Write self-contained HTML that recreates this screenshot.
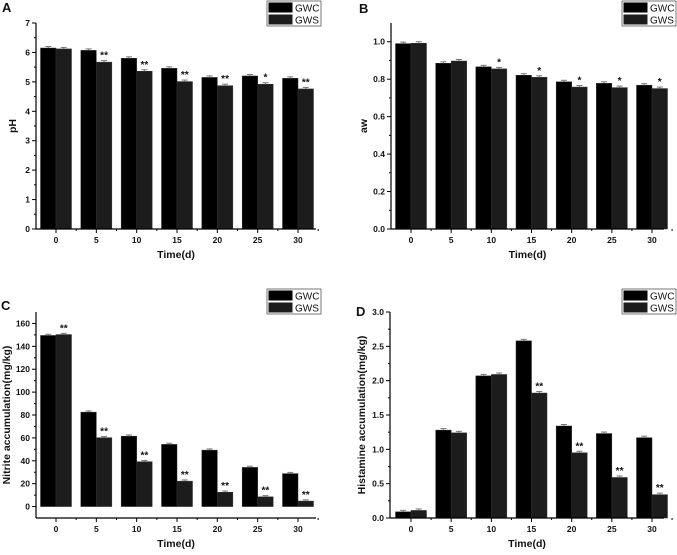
<!DOCTYPE html>
<html><head><meta charset="utf-8"><style>
body{margin:0;background:#fff;width:677px;height:550px;overflow:hidden}
svg text{font-family:"Liberation Sans",Arial,sans-serif;font-weight:bold;fill:#111}
</style></head><body>
<svg id="chart" width="677" height="550" viewBox="0 0 677 550" xmlns="http://www.w3.org/2000/svg"></svg>
<script>
const categories = [0,5,10,15,20,25,30];
const phGWC = [6.15,6.07,5.80,5.46,5.15,5.20,5.12];
const phGWS = [6.12,5.67,5.36,5.01,4.87,4.92,4.76];
const phStars = ["","**","**","**","**","*","**"];
const awGWC = [0.990,0.885,0.866,0.821,0.786,0.778,0.768];
const awGWS = [0.992,0.897,0.855,0.810,0.758,0.755,0.750];
const awStars = ["","","*","*","*","*","*"];
const niGWC = [149.5,82.5,61.5,54.3,49.3,34.2,28.8];
const niGWS = [150.3,60.2,39.2,22.2,12.5,8.5,4.8];
const niStars = ["**","**","**","**","**","**","**"];
const hiGWC = [0.09,1.28,2.07,2.58,1.34,1.23,1.17];
const hiGWS = [0.11,1.24,2.09,1.82,0.95,0.59,0.34];
const hiStars = ["","","","**","**","**","**"];
const phTicks = [0,1,2,3,4,5,6,7];
const awTicks = [0.0,0.2,0.4,0.6,0.8,1.0];
const niTicks = [0,20,40,60,80,100,120,140,160];
const hiTicks = [0.0,0.5,1.0,1.5,2.0,2.5,3.0];

const svg = document.getElementById('chart');
const NS = 'http://www.w3.org/2000/svg';
function el(tag, attrs, parent){const e=document.createElementNS(NS,tag);for(const k in attrs)e.setAttribute(k,attrs[k]);(parent||svg).appendChild(e);return e;}

function panel(cfg){
  const g = el('g',{});
  
  
  const yScale = v => cfg.yB + (v - cfg.vmin) / (cfg.vmax - cfg.vmin) * (cfg.yT - cfg.yB);
  const step = (cfg.c1 - cfg.c0) / (categories.length - 1);
  const xScale = i => cfg.c0 + i * step;
  const bw = 15.5;
  const base = yScale(0);
  // bars
  categories.forEach((c,i)=>{
    const x = xScale(i);
    [[cfg.a,'#000',-bw,'gwc'],[cfg.b,'#1c1c1c',0,'gws']].forEach(([arr,col,off,nm])=>{
      const y = yScale(arr[i]);
      const r = el('rect',{x:x+off,y:y,width:bw,height:base-y,fill:col,stroke:'#333','stroke-width':0.5},g);
      
      
      const e = cfg.err;
      el('line',{x1:x+off+bw/2,x2:x+off+bw/2,y1:y,y2:y-e,stroke:'#777','stroke-width':1},g);
      el('line',{x1:x+off+bw/2-3,x2:x+off+bw/2+3,y1:y-e,y2:y-e,stroke:'#777','stroke-width':1},g);
    });
    if(cfg.stars[i]){
      const t = el('text',{x:x+bw/2,y:yScale(Math.max(cfg.b[i],cfg.a[i]*0))-cfg.err-3,'font-size':10,'text-anchor':'middle'},g);
      t.setAttribute('y', yScale(cfg.b[i]) - cfg.err - 2);
      t.textContent = cfg.stars[i];
      
      
    }
  });
  // axes
  el('line',{x1:cfg.xL,x2:cfg.xL,y1:cfg.yT,y2:cfg.yB,stroke:'#000','stroke-width':1.2},g);
  el('line',{x1:cfg.xL,x2:cfg.xR,y1:cfg.yB,y2:cfg.yB,stroke:'#000','stroke-width':1.2},g);
  cfg.ticks.forEach((v,k)=>{
    const y = yScale(v);
    el('line',{x1:cfg.xL-4,x2:cfg.xL,y1:y,y2:y,stroke:'#000'},g);
    if(k<cfg.ticks.length-1){const ym=yScale(v+(cfg.ticks[1]-cfg.ticks[0])/2);el('line',{x1:cfg.xL-2,x2:cfg.xL,y1:ym,y2:ym,stroke:'#000'},g);}
    const t = el('text',{x:cfg.xL-6,y:y+3,'font-size':8.5,'text-anchor':'end'},g);
    t.textContent = cfg.fmt(v);
    
    
  });
  categories.forEach((c,i)=>{
    const x = xScale(i);
    el('line',{x1:x,x2:x,y1:cfg.yB,y2:cfg.yB+4,stroke:'#000'},g);
    el('line',{x1:x+step/2,x2:x+step/2,y1:cfg.yB,y2:cfg.yB+2,stroke:'#000'},g);
    const t = el('text',{x:x,y:cfg.yB+14,'font-size':8.5,'text-anchor':'middle'},g);
    t.textContent = c;
    
    
  });
  const xt = el('text',{x:(cfg.xL+cfg.xR)/2,y:cfg.yB+29,'font-size':10.5,'text-anchor':'middle'},g);
  xt.textContent = 'Time(d)';
  
  
  const yt = el('text',{x:0,y:0,'font-size':10.5,'text-anchor':'middle',transform:`translate(${cfg.ytx},${(cfg.yT+cfg.yB)/2}) rotate(-90)`},g);
  yt.textContent = cfg.ytitle;
  
  
  const lt = el('text',{x:cfg.lx,y:cfg.ly,'font-size':13},g);
  lt.textContent = cfg.letter;
  
  
  // legend
  const lg = el('g',{},g);
  
  
  el('rect',{x:cfg.legX,y:cfg.legY,width:54,height:25,fill:'#fff',stroke:'#555','stroke-width':0.8},lg);
  [['GWC','#000'],['GWS','#1c1c1c']].forEach(([n,col],k)=>{
    const s = el('rect',{x:cfg.legX+1.5,y:cfg.legY+1.5+k*12,width:24,height:10,fill:col},lg);
    
    
    const t = el('text',{x:cfg.legX+28,y:cfg.legY+10.5+k*12,'font-size':10,'font-weight':'normal'},lg);
    t.setAttribute('style','font-weight:normal');
    t.textContent = n;
    
    
  });
}
panel({letter:'A',a:phGWC,b:phGWS,stars:phStars,ticks:phTicks,fmt:v=>v,vmin:0,vmax:7,yT:23,yB:229,xL:36,xR:316,c0:56,c1:298,err:1.5,ytitle:'pH',ytx:16,lx:2,ly:12,legX:267,legY:1});
panel({letter:'B',a:awGWC,b:awGWS,stars:awStars,ticks:awTicks,fmt:v=>v.toFixed(1),vmin:0,vmax:1.1,yT:23,yB:229,xL:391,xR:664,c0:411,c1:652,err:1.5,ytitle:'aw',ytx:367,lx:359,ly:13,legX:622,legY:1});
panel({letter:'C',a:niGWC,b:niGWS,stars:niStars,ticks:niTicks,fmt:v=>v,vmin:-10,vmax:170,yT:312,yB:518,xL:36,xR:316,c0:56,c1:298,err:1.2,ytitle:'Nitrite accumulation(mg/kg)',ytx:10,lx:1,ly:310,legX:267,legY:289});
panel({letter:'D',a:hiGWC,b:hiGWS,stars:hiStars,ticks:hiTicks,fmt:v=>v.toFixed(1),vmin:0,vmax:3.0,yT:312,yB:518,xL:390,xR:664,c0:411,c1:652,err:1.5,ytitle:'Histamine accumulation(mg/kg)',ytx:365,lx:356,ly:316,legX:622,legY:289});
</script>
</body></html>
